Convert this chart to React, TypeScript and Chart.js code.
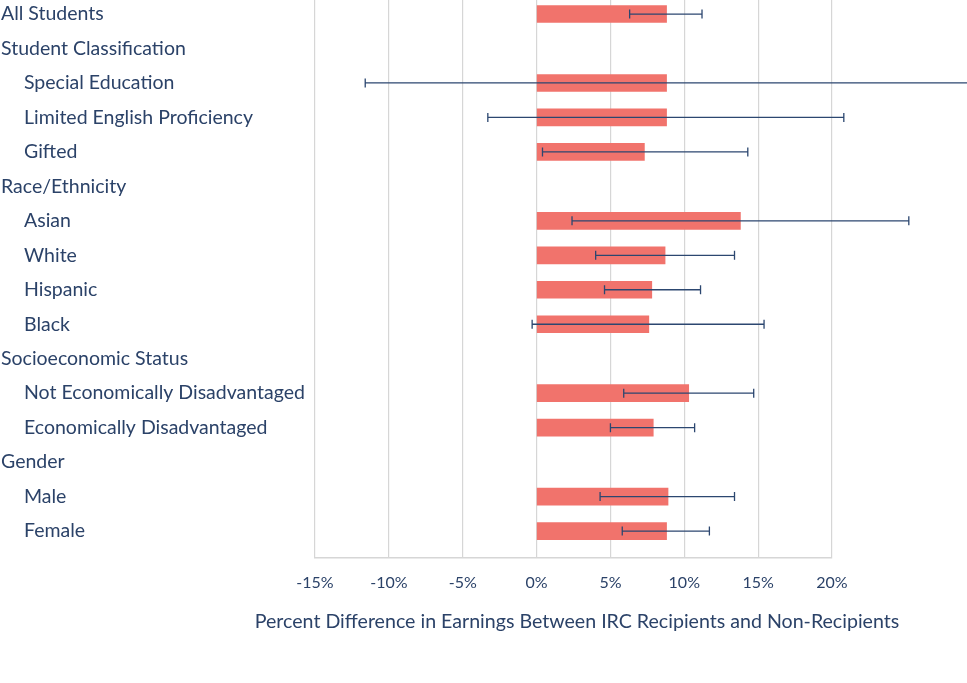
import React, { useEffect, useRef } from "react";
import { Chart, registerables } from "chart.js";

Chart.register(...registerables);

// Rows, top to bottom
const rowLabels = [
  "All Students",
  "Student Classification",
  "Special Education",
  "Limited English Proficiency",
  "Gifted",
  "Race/Ethnicity",
  "Asian",
  "White",
  "Hispanic",
  "Black",
  "Socioeconomic Status",
  "Not Economically Disadvantaged",
  "Economically Disadvantaged",
  "Gender",
  "Male",
  "Female",
];
// 0 = group heading / top-level, 1 = indented sub-group
const rowLevel = [0, 0, 1, 1, 1, 0, 1, 1, 1, 1, 0, 1, 1, 0, 1, 1];

// Percent difference in earnings (null = heading row, no bar)
const effect = [8.8, null, 8.8, 8.8, 7.3, null, 13.8, 8.7, 7.8, 7.6, null, 10.3, 7.9, null, 8.9, 8.8];
const ciLow = [6.3, null, -11.6, -3.3, 0.4, null, 2.4, 4.0, 4.6, -0.3, null, 5.9, 5.0, null, 4.3, 5.8];
const ciHigh = [11.2, null, 29.2, 20.8, 14.3, null, 25.2, 13.4, 11.1, 15.4, null, 14.7, 10.7, null, 13.4, 11.7];

const xTicks = [-15, -10, -5, 0, 5, 10, 15, 20];
const xTitle = "Percent Difference in Earnings Between IRC Recipients and Non-Recipients";

const TEXT = "#2b4268";
const FONT = "Lato, 'Open Sans', sans-serif";

export default function App() {
  const ref = useRef<HTMLCanvasElement | null>(null);

  useEffect(() => {
    if (!ref.current) return;

    const points = effect
      .map((v, i) => (v === null ? null : { x: v, y: i }))
      .filter((p) => p !== null);

    const textPlugin = {
      id: "rowLabelsAndTitle",
      afterDraw(chart: any) {
        const ctx = chart.ctx;
        const ys = chart.scales.y;
        const area = chart.chartArea;
        ctx.save();
        ctx.fillStyle = TEXT;
        ctx.font = `19.5px ${FONT}`;
        ctx.textBaseline = "middle";
        ctx.textAlign = "left";
        rowLabels.forEach((lab, i) => {
          const y = ys.getPixelForValue(i);
          ctx.fillText(lab, rowLevel[i] ? 24 : 1, y);
        });
        // axis title (drawn without width limit so it may extend past the plot)
        ctx.font = `19.6px ${FONT}`;
        ctx.textAlign = "center";
        ctx.fillText(xTitle, (area.left + area.right) / 2 + 3.5, area.bottom + 64);
        ctx.restore();
      },
    };

    const errorBarPlugin = {
      id: "errorBars",
      afterDatasetsDraw(chart: any) {
        const ctx = chart.ctx;
        const xs = chart.scales.x;
        const ys = chart.scales.y;
        ctx.save();
        ctx.strokeStyle = "#2c4770";
        ctx.lineWidth = 1.3;
        ciLow.forEach((lo, i) => {
          const hi = ciHigh[i];
          if (lo === null || hi === null) return;
          const y = ys.getPixelForValue(i);
          const x1 = xs.getPixelForValue(lo);
          const x2 = xs.getPixelForValue(hi);
          ctx.beginPath();
          ctx.moveTo(x1, y);
          ctx.lineTo(x2, y);
          ctx.moveTo(x1, y - 4.5);
          ctx.lineTo(x1, y + 4.5);
          ctx.moveTo(x2, y - 4.5);
          ctx.lineTo(x2, y + 4.5);
          ctx.stroke();
        });
        ctx.restore();
      },
    };

    const chart = new Chart(ref.current, {
      type: "bar",
      data: {
        datasets: [
          {
            data: points as any,
            backgroundColor: "#f1736c",
            borderWidth: 0,
            barThickness: 17,
          },
        ],
      },
      options: {
        indexAxis: "y",
        animation: false,
        responsive: false,
        maintainAspectRatio: false,
        layout: { padding: { left: 315, right: 135, top: 0, bottom: 76 } },
        plugins: {
          legend: { display: false },
          tooltip: { enabled: false },
        },
        scales: {
          x: {
            type: "linear",
            min: -15,
            max: 20,
            afterBuildTicks(scale: any) {
              scale.ticks = xTicks.map((v) => ({ value: v }));
            },
            grid: {
              color: "#d6d6d6",
              lineWidth: 1.2,
              drawTicks: false,
            },
            border: { display: true, color: "#d6d6d6", width: 1.5 },
            ticks: {
              padding: 15,
              color: TEXT,
              font: { family: FONT, size: 16 },
              callback: (v: any) => `${v}%`,
            },
            title: { display: false },
          },
          y: {
            type: "linear",
            reverse: true,
            offset: false,
            min: -0.407,
            max: 15.776,
            display: false,
          },
        },
      },
      plugins: [textPlugin, errorBarPlugin],
    });

    return () => chart.destroy();
  }, []);

  return (
    <div style={{ position: "fixed", left: 0, top: 0, width: 967, height: 683, background: "#fff" }}>
      <canvas ref={ref} width={967} height={683} style={{ display: "block" }} />
    </div>
  );
}
